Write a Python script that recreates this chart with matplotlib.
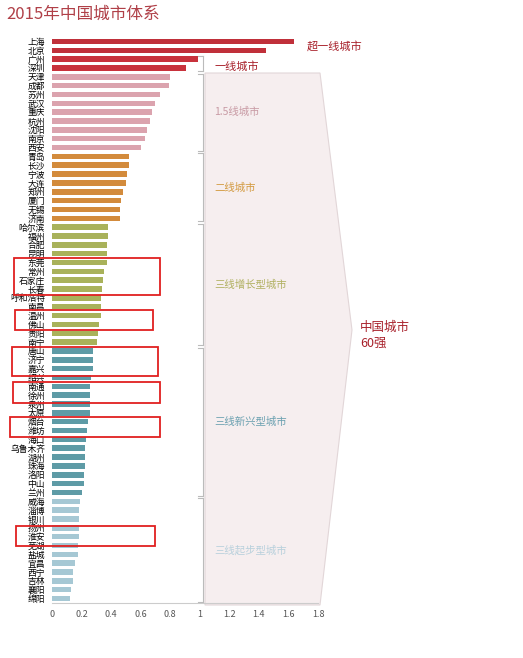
import matplotlib
matplotlib.use("Agg")
import matplotlib.pyplot as plt
from matplotlib.patches import Polygon, Rectangle

plt.rcParams['font.family'] = ['Noto Sans CJK SC', 'DejaVu Sans']

cities = ["上海","北京","广州","深圳",
          "天津","成都","苏州","武汉","重庆","杭州","沈阳","南京","西安",
          "青岛","长沙","宁波","大连","郑州","厦门","无锡","济南",
          "哈尔滨","福州","合肥","昆明","东莞","常州","石家庄","长春","呼和浩特","南昌","温州","佛山","贵阳","南宁",
          "唐山","济宁","嘉兴","绍兴","南通","徐州","泉州","太原","烟台","潍坊","海口","乌鲁木齐","湖州","珠海","洛阳","中山","兰州",
          "威海","淄博","银川","扬州","淮安","芜湖","盐城","宜昌","西宁","吉林","襄阳","绵阳"]
values = [1.64,1.45,0.99,0.91,
          0.80,0.79,0.73,0.70,0.68,0.66,0.645,0.63,0.60,
          0.52,0.52,0.51,0.50,0.48,0.47,0.46,0.46,
          0.38,0.38,0.375,0.375,0.37,0.35,0.345,0.34,0.33,0.33,0.33,0.315,0.31,0.305,
          0.28,0.275,0.275,0.265,0.26,0.26,0.26,0.26,0.245,0.24,0.23,0.225,0.22,0.22,0.215,0.215,0.20,
          0.19,0.185,0.185,0.18,0.18,0.175,0.175,0.155,0.145,0.14,0.13,0.125]
tier_names = ["超一线城市","一线城市","1.5线城市","二线城市","三线增长型城市","三线新兴型城市","三线起步型城市"]
tier_sizes = [2,2,9,8,14,17,12]
tier_colors = ["#c0303a","#c8323c","#dba3ae","#d38b3c","#a9b25a","#5e9ba6","#a6c8d4"]
tier_text_colors = ["#a8202a","#a8202a","#c89aa4","#d39a40","#b0b060","#6aa0b0","#b8d0dc"]
xticks = [0,0.2,0.4,0.6,0.8,1,1.2,1.4,1.6,1.8]

W,H = 523,658
fig = plt.figure(figsize=(W/100,H/100), dpi=100)
ax = fig.add_axes([52/W, 1-603/H, 266/W, 566/H])
ax.set_zorder(3)
ax.patch.set_alpha(0)

colors = []
for s,c in zip(tier_sizes,tier_colors):
    colors += [c]*s
n = len(cities)
ypos = list(range(n))
ax.barh(ypos, values, height=0.62, color=colors)
ax.set_ylim(n-0.5, -0.5)
ax.set_xlim(0,1.8)
ax.set_yticks(ypos)
ax.set_yticklabels(cities, fontsize=6.3)
ax.set_xticks(xticks)
ax.set_xticklabels([f"{t:g}" for t in xticks], fontsize=6.5, color="#555555")
ax.tick_params(length=0, pad=5)
for sp in ["top","right","left"]:
    ax.spines[sp].set_visible(False)
ax.spines["bottom"].set_color("#cccccc")

def fy(py): return 1-py/H
def fx(px): return px/W
chev = Polygon([(fx(205),fy(73)),(fx(320),fy(73)),(fx(352),fy(330)),(fx(320),fy(605)),(fx(205),fy(605))],
               closed=True, transform=fig.transFigure, facecolor="#f6eeef", edgecolor="#e2d6d8", lw=0.8, zorder=0)
fig.patches.append(chev)

start = 0
for i,(s,name,tc) in enumerate(zip(tier_sizes,tier_names,tier_text_colors)):
    y0, y1 = start-0.5, start+s-0.5
    mid = start + (s-1)/2
    if i == 0:
        ax.text(1.72, mid, name, fontsize=8, color=tc, va="center", clip_on=False)
    else:
        ax.plot([1.02,1.02],[y0+0.15,y1-0.15], color="#bbbbbb", lw=0.8, clip_on=False)
        ax.plot([0.99,1.02],[y0+0.15,y0+0.15], color="#bbbbbb", lw=0.8, clip_on=False)
        ax.plot([0.99,1.02],[y1-0.15,y1-0.15], color="#bbbbbb", lw=0.8, clip_on=False)
        ax.text(1.1, mid if i>1 else mid+0.3, name, fontsize=7.5 if i>1 else 8,
                color=tc, va="center", clip_on=False)
    start += s

fig.text(fx(360), fy(335), "中国城市\n60强", fontsize=9, color="#a8202a", va="center", linespacing=1.3)
fig.text(fx(6), fy(14), "2015年中国城市体系", fontsize=12, color="#b04048", style="italic",
         family=["Noto Sans CJK SC","DejaVu Sans"], va="center")

boxes = [(14,258,160,295),(15,310,153,330),(12,347,158,376),(13,382,160,403),(10,417,160,437),(16,526,155,546)]
for x0,y0,x1,y1 in boxes:
    r = Rectangle((fx(x0),fy(y1)), (x1-x0)/W, (y1-y0)/H, transform=fig.transFigure,
                  fill=False, edgecolor="#e02020", lw=1.3, zorder=5)
    fig.add_artist(r)

fig.savefig("out.png", dpi=100)
